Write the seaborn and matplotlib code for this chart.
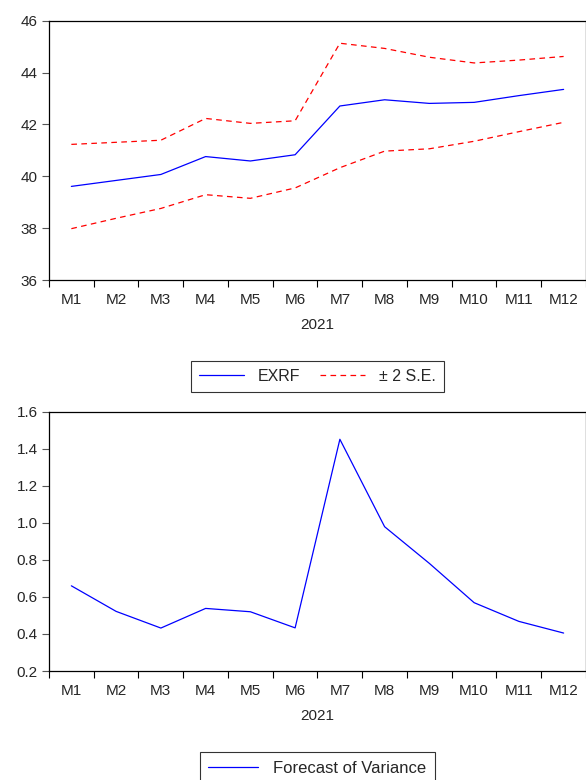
import pandas as pd
import matplotlib.pyplot as plt
import seaborn as sns
from matplotlib.ticker import FixedLocator

months = ['M1', 'M2', 'M3', 'M4', 'M5', 'M6', 'M7', 'M8', 'M9', 'M10', 'M11', 'M12']
exrf = [39.61, 39.84, 40.07, 40.76, 40.59, 40.83, 42.71, 42.95, 42.81, 42.85, 43.11, 43.35]
upper_se = [41.23, 41.31, 41.39, 42.23, 42.04, 42.14, 45.13, 44.93, 44.59, 44.37, 44.48, 44.62]
lower_se = [37.98, 38.38, 38.76, 39.29, 39.15, 39.55, 40.33, 40.97, 41.06, 41.35, 41.72, 42.08]
variance = [0.66, 0.522, 0.432, 0.538, 0.52, 0.433, 1.451, 0.979, 0.781, 0.569, 0.468, 0.405]

sns.set_style('ticks')
plt.rcParams['font.family'] = ['Liberation Sans', 'DejaVu Sans']
plt.rcParams['font.size'] = 11

fig = plt.figure(figsize=(5.86, 7.8), dpi=100)
ax1 = fig.add_axes([0.0836, 0.641, 0.9164, 0.3325])
ax2 = fig.add_axes([0.0836, 0.1397, 0.9164, 0.3325])

df = pd.DataFrame({'month': months, 'exrf': exrf, 'upper': upper_se,
                   'lower': lower_se, 'var': variance})

blue = '#0000ff'
red = '#ff0000'

sns.lineplot(data=df, x='month', y='exrf', ax=ax1, color=blue, lw=0.9,
             sort=False, label='EXRF')
sns.lineplot(data=df, x='month', y='upper', ax=ax1, color=red, lw=0.9,
             sort=False, label='± 2 S.E.', dashes=False)
sns.lineplot(data=df, x='month', y='lower', ax=ax1, color=red, lw=0.9,
             sort=False)
for ln in ax1.lines[1:]:
    ln.set_linestyle((0, (4.5, 3.5)))

sns.lineplot(data=df, x='month', y='var', ax=ax2, color=blue, lw=0.9,
             sort=False, label='Forecast of Variance')


def style_axis(ax, yticks, fmt):
    ax.set_xlim(-0.5, len(months) - 0.5)
    ax.set_ylim(yticks[0], yticks[-1])
    ax.set_yticks(yticks)
    ax.set_yticklabels([fmt.format(v) for v in yticks])
    ax.set_xticks(range(len(months)))
    ax.set_xticklabels(months)
    ax.xaxis.set_minor_locator(FixedLocator([i - 0.5 for i in range(len(months) + 1)]))
    ax.tick_params(axis='x', which='major', length=0, pad=9, labelsize=11)
    ax.tick_params(axis='x', which='minor', length=5, width=0.8, color='black')
    ax.tick_params(axis='y', length=5, width=0.8, color='#555555', labelsize=11, pad=3)
    ax.set_xlabel('2021', fontsize=11, labelpad=8)
    ax.set_ylabel('')
    for sp in ax.spines.values():
        sp.set_visible(True)
        sp.set_linewidth(0.9)
        sp.set_color('black')
    ax.get_legend().remove()


style_axis(ax1, [36, 38, 40, 42, 44, 46], '{:.0f}')
style_axis(ax2, [0.2, 0.4, 0.6, 0.8, 1.0, 1.2, 1.4, 1.6], '{:.1f}')

h1, l1 = ax1.get_legend_handles_labels()
leg1 = fig.legend(h1, l1, loc='upper center', bbox_to_anchor=(0.5418, 0.5475),
                  ncol=2, frameon=True, fancybox=False, edgecolor='black',
                  handlelength=2.8, handletextpad=0.9, columnspacing=1.2,
                  borderpad=0.5, fontsize=11.5)
leg1.get_frame().set_linewidth(0.8)

h2, l2 = ax2.get_legend_handles_labels()
leg2 = fig.legend(h2, l2, loc='upper center', bbox_to_anchor=(0.5418, 0.0462),
                  ncol=1, frameon=True, fancybox=False, edgecolor='black',
                  handlelength=3.0, handletextpad=0.9,
                  borderpad=0.5, fontsize=12)
leg2.get_frame().set_linewidth(0.8)

fig.savefig('out.png', dpi=100)
